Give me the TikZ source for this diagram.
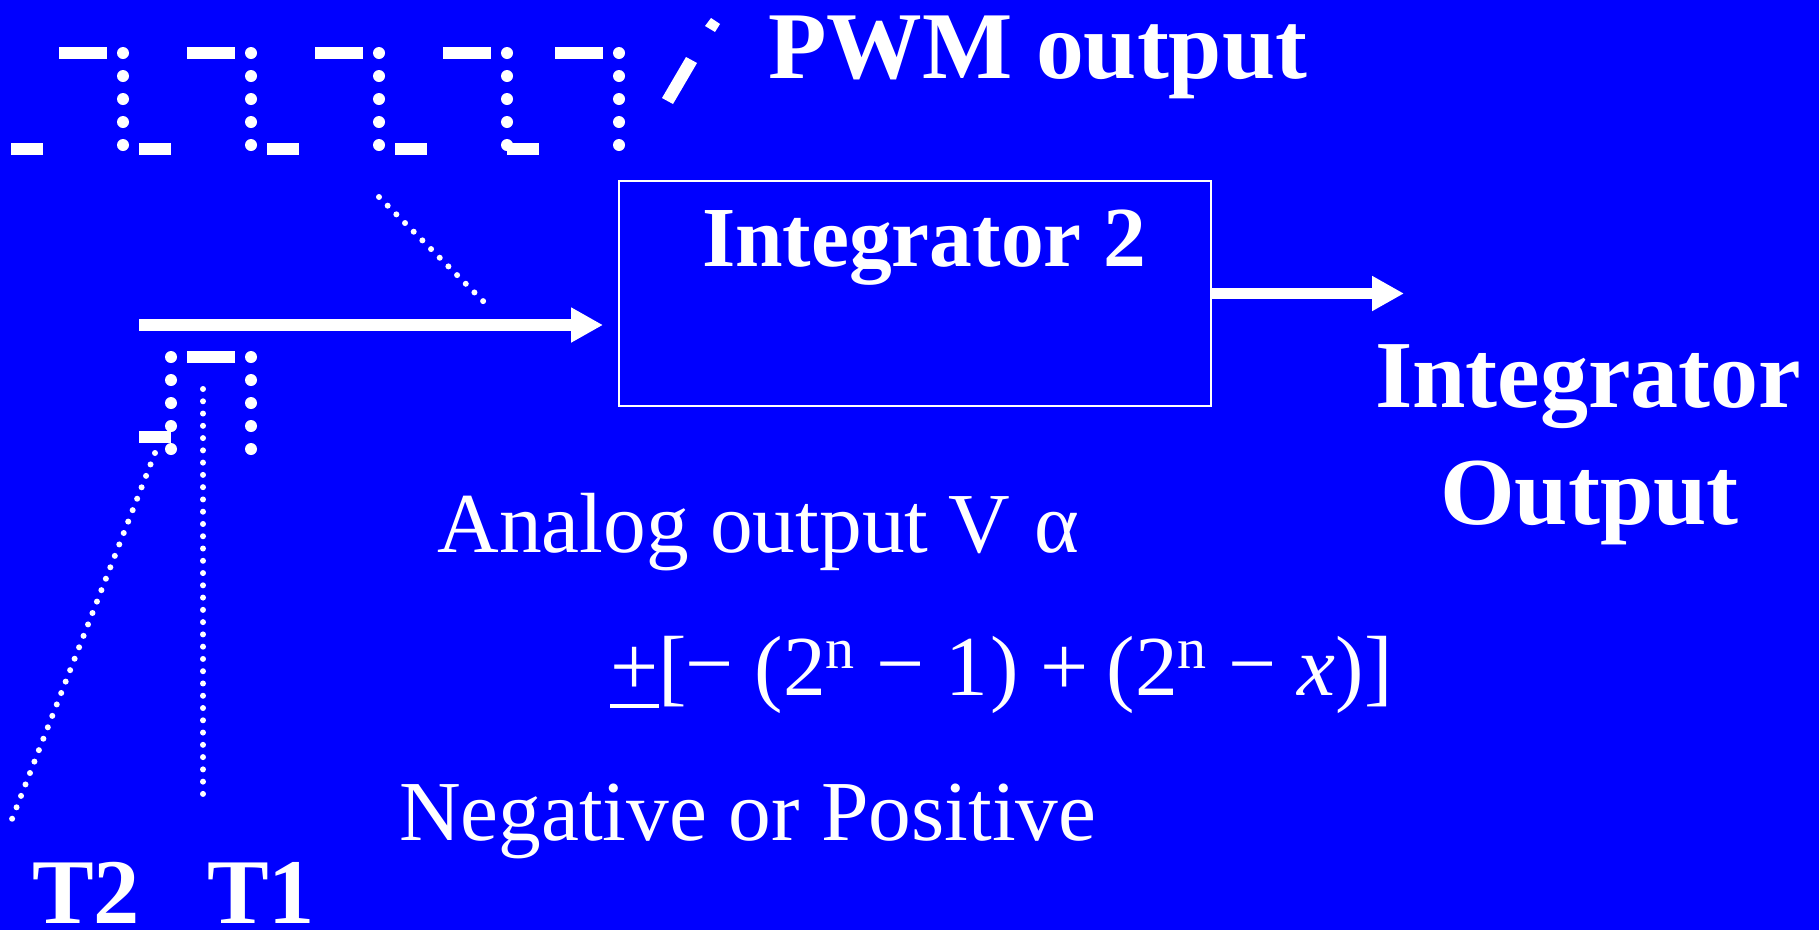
\documentclass[tikz,border=0pt]{standalone}
\usepackage{fontspec}
\setmainfont{Liberation Serif}
\usetikzlibrary{arrows.meta}
\definecolor{bgblue}{HTML}{0000FF}
\newcommand{\supn}{\raisebox{27pt}{\fontsize{58}{58}\selectfont n}}
\newcommand{\highminus}{\raisebox{3pt}{−}}
\tikzset{
  bar/.style={draw=white,line width=12pt,line cap=butt},
  bigdots/.style={draw=white,line width=12pt,line cap=round,dash pattern=on 0pt off 23pt},
  smalldots/.style={draw=white,line width=6pt,line cap=round,dash pattern=on 0pt off 12.27pt},
  flow/.style={draw=white,line width=11.5pt,-{Triangle[length=32pt,width=33pt]}},
  boldlabel/.style={text=white,font=\fontsize{95.6}{96}\selectfont\bfseries,anchor=base west,inner sep=0pt,outer sep=0pt},
  plainlabel/.style={text=white,font=\fontsize{85.4}{86}\selectfont,anchor=base west,inner sep=0pt,outer sep=0pt},
  blockbox/.style={draw=white,line width=2.2pt,fill=none,minimum width=592pt,minimum height=225pt,inner sep=0pt,outer sep=0pt,anchor=north west}
}
\begin{document}
\begin{tikzpicture}[x=1pt,y=-1pt]
\fill[bgblue] (0,0) rectangle (1819,930);
\useasboundingbox (0,0) rectangle (1819,930);
% PWM waveform
\foreach \xa/\xb in {59/107,187/235,315/363,443/491,555/603}{\draw[bar] (\xa,53) -- (\xb,53);}
\foreach \xa/\xb in {11/43,139/171,267/299,395/427,507/539}{\draw[bar] (\xa,149) -- (\xb,149);}
\foreach \xa in {123,251,379,507,619}{\draw[bigdots] (\xa,53) -- (\xa,146);}
\fill[white] (686,57) -- (697,63) -- (673,104) -- (662,98) -- cycle;
\fill[white] (711,18) -- (720,24) -- (715,32) -- (705,26) -- cycle;
% Block
\node[blockbox] (integ) at (619,181) {};
\node[boldlabel,font=\fontsize{85.5}{86}\selectfont\bfseries] (integlabel) at (702,266) {Integrator 2};
% Connectors
\coordinate (inStart) at (139,325);
\coordinate (inEnd) at (603,325);
\draw[flow] (inStart) -- (inEnd);
\coordinate (outEnd) at (1404,293.5);
\draw[flow] (integ.east) -- (outEnd);
% Expanded pulse
\draw[bar] (187,357) -- (235,357);
\draw[bar] (139,437) -- (171,437);
\draw[bigdots] (171,357) -- (171,450);
\draw[bigdots] (251,357) -- (251,450);
% Leader dots
\coordinate (pA) at (379,197);
\coordinate (pB) at (483.5,301.5);
\draw[smalldots] (pA) -- (pB);
\coordinate (t1A) at (203,389);
\coordinate (t1B) at (203,795);
\draw[smalldots] (t1A) -- (t1B);
\coordinate (t2A) at (155,453);
\coordinate (t2B) at (11.8,819.5);
\draw[smalldots] (t2A) -- (t2B);
% Labels
\node[boldlabel] (pwm) at (768,78) {PWM output};
\node[boldlabel,font=\fontsize{96}{96}\selectfont\bfseries] (io1) at (1375,407) {Integrator};
\node[boldlabel,font=\fontsize{96}{96}\selectfont\bfseries] (io2) at (1440,524) {Output};
\node[boldlabel,font=\fontsize{92.5}{93}\selectfont\bfseries] (t2) at (32,923) {T2};
\node[boldlabel,font=\fontsize{92.5}{93}\selectfont\bfseries] (t1) at (207,923) {T1};
\node[plainlabel] (analog) at (437.5,552) {Analog output\hspace{-1pt} V\hspace{3pt} α};
\node[plainlabel] (formula) at (610,695) {\rlap{\rule[-13pt]{49pt}{4.5pt}}+[\hspace{-1.4pt}\highminus{} (2\supn{} \highminus{} 1\hspace{2pt}) + \hspace{-3pt}(2\supn{} \highminus{} \textit{x})]};
\node[plainlabel] (sign) at (399,840) {Negative or Positive};
\end{tikzpicture}
\end{document}
